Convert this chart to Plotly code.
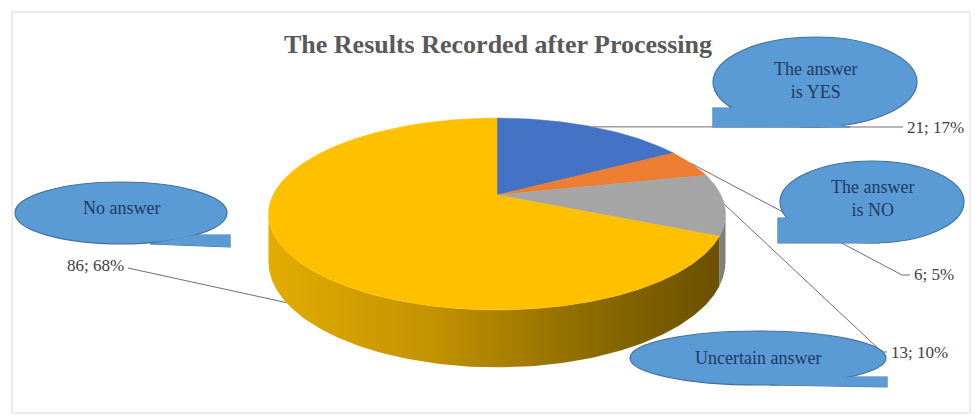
import numpy as np
import plotly.graph_objects as go

# ---------------- data ----------------
categories = ["The answer is YES", "The answer is NO", "Uncertain answer", "No answer"]
values = [21, 6, 13, 86]
slice_colors = ["#4472C4", "#ED7D31", "#A5A5A5", "#FFC000"]
side_colors = ["#2F5597", "#C55A11", "#7F7F7F", "#B08600"]
callout_text = ["The answer<br>is YES", "The answer<br>is NO", "Uncertain answer", "No answer"]
title_text = "The Results Recorded after Processing"

# ---------------- layout constants (pixel space) ----------------
W, H = 975, 418
CX, CY = 497, 195          # apex of the pie
RX, KY, PC, D0 = 224, 92.2, 0.198, 46   # radius x, radius y, perspective, depth

total = sum(values)
pcts = [round(v / total * 100) for v in values]
labels = [f"{v}; {p}%" for v, p in zip(values, pcts)]


def proj(theta_deg, h=0.0):
    t = np.radians(theta_deg)
    u, v = np.sin(t), np.cos(t)
    w = 1 + PC * v
    return CX + RX * u / w, CY - KY * v / w + h * D0 / w


# silhouette angles of the cylinder wall
s1 = np.degrees(np.arccos(-PC))
s2 = 360 - s1

fig = go.Figure()

bounds = []
acc = 0
for v in values:
    a = acc / total * 360
    acc += v
    b = acc / total * 360
    bounds.append((a, b))

# side walls
for i, (a, b) in enumerate(bounds):
    lo, hi = max(a, s1), min(b, s2)
    if hi <= lo:
        continue
    th = np.linspace(lo, hi, 200)
    xt, yt = proj(th, 0)
    xb, yb = proj(th[::-1], 1)
    xs = np.concatenate([xt, xb, xt[:1]])
    ys = np.concatenate([yt, yb, yt[:1]])
    kw = dict(fillcolor=side_colors[i])
    if i == 3:
        kw = dict(fillgradient=dict(type="horizontal",
                                    colorscale=[[0, "#E2AC00"], [0.35, "#C49400"],
                                                [0.7, "#8E6C00"], [1, "#6A5000"]]))
    fig.add_trace(go.Scatter(x=xs, y=ys, mode="lines", fill="toself",
                             line=dict(width=0, color=side_colors[i]),
                             hoverinfo="skip", showlegend=False, **kw))

# top faces
for i, (a, b) in enumerate(bounds):
    th = np.linspace(a, b, max(int((b - a) * 2), 4))
    xt, yt = proj(th, 0)
    xs = np.concatenate([[CX], xt, [CX]])
    ys = np.concatenate([[CY], yt, [CY]])
    fig.add_trace(go.Scatter(x=xs, y=ys, mode="lines", fill="toself",
                             fillcolor=slice_colors[i],
                             line=dict(width=0.5, color=slice_colors[i]),
                             name=categories[i], hoverinfo="skip", showlegend=False))

# leader lines: (path points after the start, label x, label y, anchor)
leaders = [
    ([(903, 127)], 905, 127, "left"),
    ([(902, 275), (910, 275)], 912, 274, "left"),
    ([(882, 352), (887, 352)], 889, 352, "left"),
    ([(128, 268)], 126, 265, "right"),
]
for i, (a, b) in enumerate(bounds):
    mid = (a + b) / 2
    h = 1 if s1 <= mid <= s2 else 0
    sx, sy = proj(mid, h)
    pts, lx, ly, anc = leaders[i]
    xs = [float(sx)] + [p[0] for p in pts]
    ys = [float(sy)] + [p[1] for p in pts]
    fig.add_trace(go.Scatter(x=xs, y=ys, mode="lines",
                             line=dict(width=1, color="#6F6F6F"),
                             hoverinfo="skip", showlegend=False))
    fig.add_annotation(x=lx, y=ly, text=labels[i], showarrow=False,
                       xanchor=anc, yanchor="middle",
                       font=dict(family="Liberation Serif", size=17, color="#404040"))

# callouts: ellipse (cx, cy, rx, ry), tail polygon, text y
callouts = [
    ((815, 82, 102, 45), [(748, 108), (713, 108), (713, 127), (850, 127)], 80),
    ((872, 202, 92, 41), [(812, 218), (778, 218), (778, 243), (880, 243)], 198),
    ((758, 358, 128, 27), [(845, 377), (887, 377), (887, 387), (770, 385)], 358),
    ((121, 213, 106, 31), [(195, 235), (230, 235), (230, 247), (150, 244)], 208),
]
CFILL, CLINE = "#5B9BD5", "#41719C"


def poly_path(pts):
    return "M " + " L ".join(f"{x},{y}" for x, y in pts) + " Z"


for i, ((ex, ey, erx, ery), tail, ty) in enumerate(callouts):
    fig.add_shape(type="path", path=poly_path(tail), fillcolor=CFILL,
                  line=dict(color=CLINE, width=1.2), layer="above")
    fig.add_shape(type="circle", x0=ex - erx, x1=ex + erx, y0=ey - ery, y1=ey + ery,
                  fillcolor=CFILL, line=dict(color=CLINE, width=1.2), layer="above")
    fig.add_shape(type="path", path=poly_path(tail), fillcolor=CFILL,
                  line=dict(width=0), layer="above")
    fig.add_annotation(x=ex, y=ty, text=callout_text[i], showarrow=False,
                       xanchor="center", yanchor="middle",
                       font=dict(family="Liberation Serif", size=18, color="#1F3864"))

# chart frame
fig.add_shape(type="rect", x0=12, x1=970, y0=12, y1=413,
              line=dict(color="#DADADA", width=1), layer="below")

# title
fig.add_annotation(x=498, y=44, text=f"<b>{title_text}</b>", showarrow=False,
                   xanchor="center", yanchor="middle",
                   font=dict(family="Liberation Serif", size=26, color="#595959"))

fig.update_layout(
    width=W, height=H, margin=dict(l=0, r=0, t=0, b=0),
    paper_bgcolor="white", plot_bgcolor="white",
    xaxis=dict(range=[0, W], visible=False, fixedrange=True),
    yaxis=dict(range=[H, 0], visible=False, fixedrange=True),
    showlegend=False,
)

fig.write_html("out.html")
